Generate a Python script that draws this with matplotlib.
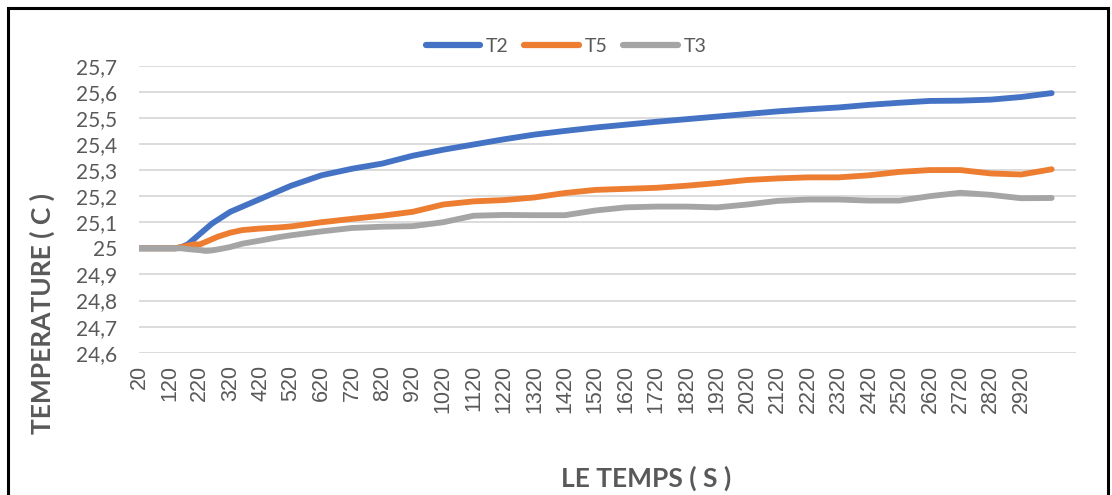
import matplotlib
matplotlib.use('Agg')
import matplotlib.pyplot as plt
from matplotlib.ticker import FuncFormatter, FixedLocator
from matplotlib.patches import Rectangle

# time (s) and the three temperature series
time_s = [20, 60, 100, 140, 160, 180, 200, 220, 240, 260, 280, 320, 360, 420,
          480, 520, 620, 720, 820, 920, 1020, 1120, 1220, 1320, 1420, 1520,
          1620, 1720, 1820, 1920, 2020, 2120, 2220, 2320, 2420, 2520, 2620,
          2720, 2820, 2920, 3020]

t2 = [25.0, 25.0, 25.0, 25.0, 25.005, 25.015, 25.035, 25.055, 25.075, 25.095,
      25.11, 25.14, 25.16, 25.19, 25.22, 25.24, 25.28, 25.305, 25.325, 25.355,
      25.378, 25.398, 25.418, 25.436, 25.45, 25.463, 25.474, 25.485, 25.495,
      25.505, 25.515, 25.525, 25.533, 25.54, 25.55, 25.558, 25.565, 25.566,
      25.57, 25.58, 25.595]

t5 = [25.0, 25.0, 25.0, 25.0, 25.005, 25.01, 25.015, 25.015, 25.025, 25.035,
      25.045, 25.06, 25.07, 25.076, 25.08, 25.084, 25.10, 25.113, 25.125, 25.14,
      25.168, 25.18, 25.185, 25.195, 25.212, 25.224, 25.228, 25.232, 25.24,
      25.25, 25.262, 25.268, 25.272, 25.272, 25.28, 25.293, 25.30, 25.30,
      25.287, 25.283, 25.303]

t3 = [25.0, 25.0, 25.0, 25.0, 25.0, 24.997, 24.995, 24.993, 24.99, 24.992,
      24.996, 25.005, 25.018, 25.03, 25.043, 25.05, 25.065, 25.078, 25.083,
      25.085, 25.10, 25.125, 25.128, 25.127, 25.127, 25.145, 25.157, 25.16,
      25.16, 25.157, 25.168, 25.182, 25.187, 25.187, 25.183, 25.183, 25.20,
      25.213, 25.205, 25.192, 25.193]

x_ticks = list(range(20, 3000, 100))
y_ticks = [24.6, 24.7, 24.8, 24.9, 25.0, 25.1, 25.2, 25.3, 25.4, 25.5, 25.6, 25.7]

series = [('T2', t2, '#4472C4'), ('T5', t5, '#ED7D31'), ('T3', t3, '#A5A5A5')]

W, H = 1112, 495
fig = plt.figure(figsize=(W / 100, H / 100), dpi=100)
fig.patch.set_facecolor('white')

# plot area in pixel coordinates
left, right, top, bottom = 139, 1076, 65.7, 352.7
ax = fig.add_axes([left / W, 1 - bottom / H, (right - left) / W, (bottom - top) / H])

for name, vals, color in series:
    ax.plot(time_s, vals, color=color, lw=4.2, label=name,
            solid_capstyle='round', solid_joinstyle='round', zorder=3)

ax.set_xlim(20, 3100)
ax.set_ylim(24.6, 25.7)
ax.yaxis.set_major_locator(FixedLocator(y_ticks))
ax.xaxis.set_major_locator(FixedLocator(x_ticks))


def comma_fmt(v, pos):
    s = f'{v:.1f}'.replace('.', ',')
    if s.endswith(',0'):
        s = s[:-2]
    return s


ax.yaxis.set_major_formatter(FuncFormatter(comma_fmt))
ax.grid(axis='y', color='#D9D9D9', lw=1.3, zorder=0)
ax.grid(axis='x', visible=False)
for sp in ax.spines.values():
    sp.set_visible(False)

ax.tick_params(axis='y', length=0, pad=16, labelsize=15, labelcolor='#595959')
ax.tick_params(axis='x', length=0, pad=9, labelsize=15.5, labelcolor='#595959',
               labelrotation=90)
for lab in ax.get_yticklabels():
    lab.set_fontfamily('Lato')
for lab in ax.get_xticklabels():
    lab.set_fontfamily('Liberation Sans')

# axis titles
fig.text(42 / W, 1 - 313 / H, 'TEMPERATURE ( C )', rotation=90, ha='center',
         va='center', fontsize=19, fontweight='bold', color='#595959',
         family='Lato')
fig.text(646 / W, 1 - 478 / H, 'LE TEMPS ( S )', ha='center', va='center',
         fontsize=19, fontweight='bold', color='#595959', family='Lato')

leg = fig.legend(loc='center', bbox_to_anchor=(566 / W, 1 - 46.7 / H), ncol=3,
                 frameon=False, handlelength=2.8, handletextpad=0.3,
                 columnspacing=0.8, prop={'family': 'Lato', 'size': 14})
for txt in leg.get_texts():
    txt.set_color('#595959')
for ln in leg.get_lines():
    ln.set_linewidth(4.5)
    ln.set_solid_capstyle('round')

# outer frame
fig.patches.append(Rectangle((8 / W, -0.1), 1100 / W, 1.1 - 8 / H,
                             transform=fig.transFigure, fill=False,
                             edgecolor='black', lw=2.2))

fig.savefig('out.png', dpi=100)
